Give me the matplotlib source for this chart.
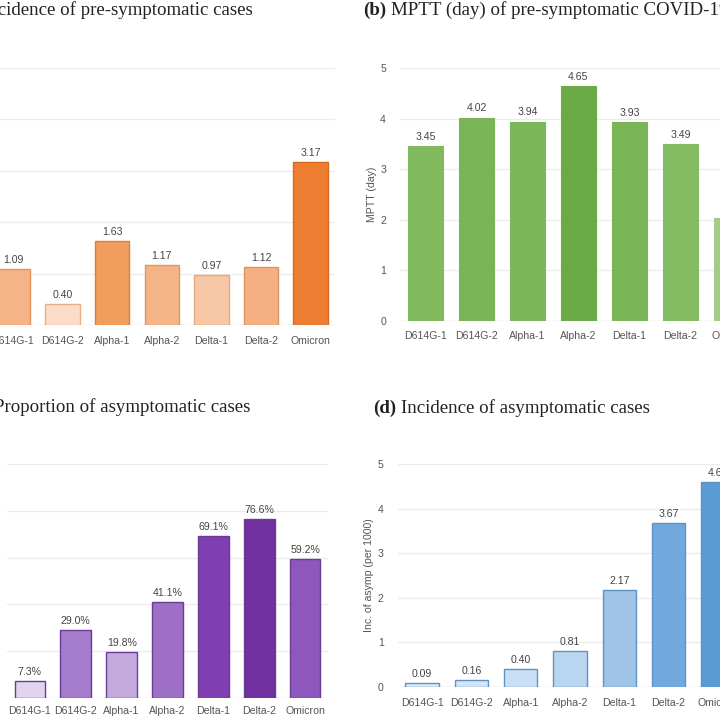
import matplotlib
matplotlib.use("Agg")
import matplotlib.pyplot as plt

categories = ["D614G-1", "D614G-2", "Alpha-1", "Alpha-2", "Delta-1", "Delta-2", "Omicron"]

inc_presymp = [1.09, 0.40, 1.63, 1.17, 0.97, 1.12, 3.17]
mptt_days = [3.45, 4.02, 3.94, 4.65, 3.93, 3.49, 2.04]
prop_asymp = [7.3, 29.0, 19.8, 41.1, 69.1, 76.6, 59.2]
inc_asymp = [0.09, 0.16, 0.40, 0.81, 2.17, 3.67, 4.60]

colors_a = ["#f5b487", "#fbdcc6", "#f19d5e", "#f5b488", "#f8c8a6", "#f4b083", "#ed7d31"]
edges_a = ["#e2935c", "#e8b08a", "#db7f3b", "#e2965f", "#e6a97f", "#e0925c", "#d66a1f"]
colors_b = ["#80b95e", "#79b556", "#7cb85a", "#6aab45", "#7ab658", "#83bc63", "#a2cd89"]
colors_c = ["#e2d3ef", "#a57ccb", "#c5aade", "#9d6fc5", "#7f3fb1", "#7030a0", "#8e57bd"]
edges_c = "#6b3c95"
colors_d = ["#dde9f6", "#d5e5f4", "#c9dff3", "#bad5ef", "#9fc4e7", "#72a9dd", "#5b9bd5"]
edges_d = "#5f93c6"

W = H = 720
fig = plt.figure(figsize=(7.2, 7.2), dpi=100)

SANS = ["Liberation Sans", "DejaVu Sans"]
SERIF = ["Liberation Serif", "DejaVu Serif"]


def ax_px(left, right, top, bottom):
    return fig.add_axes([left / W, 1 - bottom / H, (right - left) / W, (bottom - top) / H])


def style(ax, ymax, yticks, pad, show_y=True):
    ax.set_xlim(-0.5, 6.5)
    ax.set_ylim(0, ymax)
    for s in ax.spines.values():
        s.set_visible(False)
    ax.set_yticks(yticks)
    ax.grid(axis="y", color="#ebebeb", linewidth=0.9)
    ax.set_axisbelow(True)
    ax.axhline(0, color="#e6e6e6", linewidth=0.9, zorder=0)
    ax.tick_params(axis="both", length=0, labelsize=7.6, labelcolor="#555555")
    ax.tick_params(axis="x", pad=pad)
    ax.tick_params(axis="y", pad=10, labelleft=show_y)
    for lab in ax.get_xticklabels() + ax.get_yticklabels():
        lab.set_family(SANS)
    ax.patch.set_alpha(0)


def value_labels(ax, vals, fmt, off):
    for i, v in enumerate(vals):
        ax.annotate(fmt.format(v), (i, v), xytext=(0, off), textcoords="offset points",
                    ha="center", va="bottom", fontsize=7.6, color="#444444", family=SANS)


x = list(range(len(categories)))

# (a)
ax = ax_px(-11.8, 335.4, 68, 325)
ax.bar(x, inc_presymp, width=0.69, color=colors_a, edgecolor=edges_a, linewidth=1.0)
ax.set_xticks(x, categories)
style(ax, 5, [0, 1, 2, 3, 4, 5], 8, show_y=False)
value_labels(ax, inc_presymp, "{:.2f}", 3)

# (b)
ax = ax_px(400, 757, 68, 321)
ax.bar(x, mptt_days, width=0.69, color=colors_b, edgecolor=colors_b, linewidth=0.8)
ax.set_xticks(x, categories)
style(ax, 5, [0, 1, 2, 3, 4, 5], 7)
value_labels(ax, mptt_days, "{:.2f}", 3)
ax.set_ylabel("MPTT (day)", fontsize=7.6, color="#555555", family=SANS, labelpad=2)

# (c)
ax = ax_px(7, 328, 464, 698)
ax.bar(x, prop_asymp, width=0.67, color=colors_c, edgecolor=edges_c, linewidth=1.0)
ax.set_xticks(x, categories)
style(ax, 100, [0, 20, 40, 60, 80, 100], 6, show_y=False)
value_labels(ax, prop_asymp, "{:.1f}%", 3)

# (d)
ax = ax_px(397.5, 742.5, 464, 687)
ax.bar(x, inc_asymp, width=0.68, color=colors_d, edgecolor=edges_d, linewidth=1.0)
ax.set_xticks(x, categories)
style(ax, 5, [0, 1, 2, 3, 4, 5], 8)
value_labels(ax, inc_asymp, "{:.2f}", 3)
ax.set_ylabel("Inc. of asymp (per 1000)", fontsize=7.6, color="#555555", family=SANS, labelpad=3)

# Titles
fig.canvas.draw()
renderer = fig.canvas.get_renderer()
TSIZE = 13.6


def title(label, rest, xpx, ypx, align="left"):
    y = 1 - ypx / H
    if align == "left":
        t1 = fig.text(xpx / W, y, label, fontsize=TSIZE, family=SERIF, weight="bold",
                      ha="left", va="center", color="#222222")
        bb = t1.get_window_extent(renderer)
        fig.text((bb.x1 + 5) / W, y, rest, fontsize=TSIZE, family=SERIF,
                 ha="left", va="center", color="#222222")
    else:
        t2 = fig.text(xpx / W, y, rest, fontsize=TSIZE, family=SERIF,
                      ha="right", va="center", color="#222222")
        bb = t2.get_window_extent(renderer)
        fig.text((bb.x0 - 5) / W, y, label, fontsize=TSIZE, family=SERIF, weight="bold",
                 ha="right", va="center", color="#222222")


title("(a)", "Incidence of pre-symptomatic cases", 253, 10, align="right")
title("(b)", "MPTT (day) of pre-symptomatic COVID-19 cases", 363, 10)
title("(c)", "Proportion of asymptomatic cases", 250, 407, align="right")
title("(d)", "Incidence of asymptomatic cases", 373, 408)

fig.savefig("out.png", dpi=100)
